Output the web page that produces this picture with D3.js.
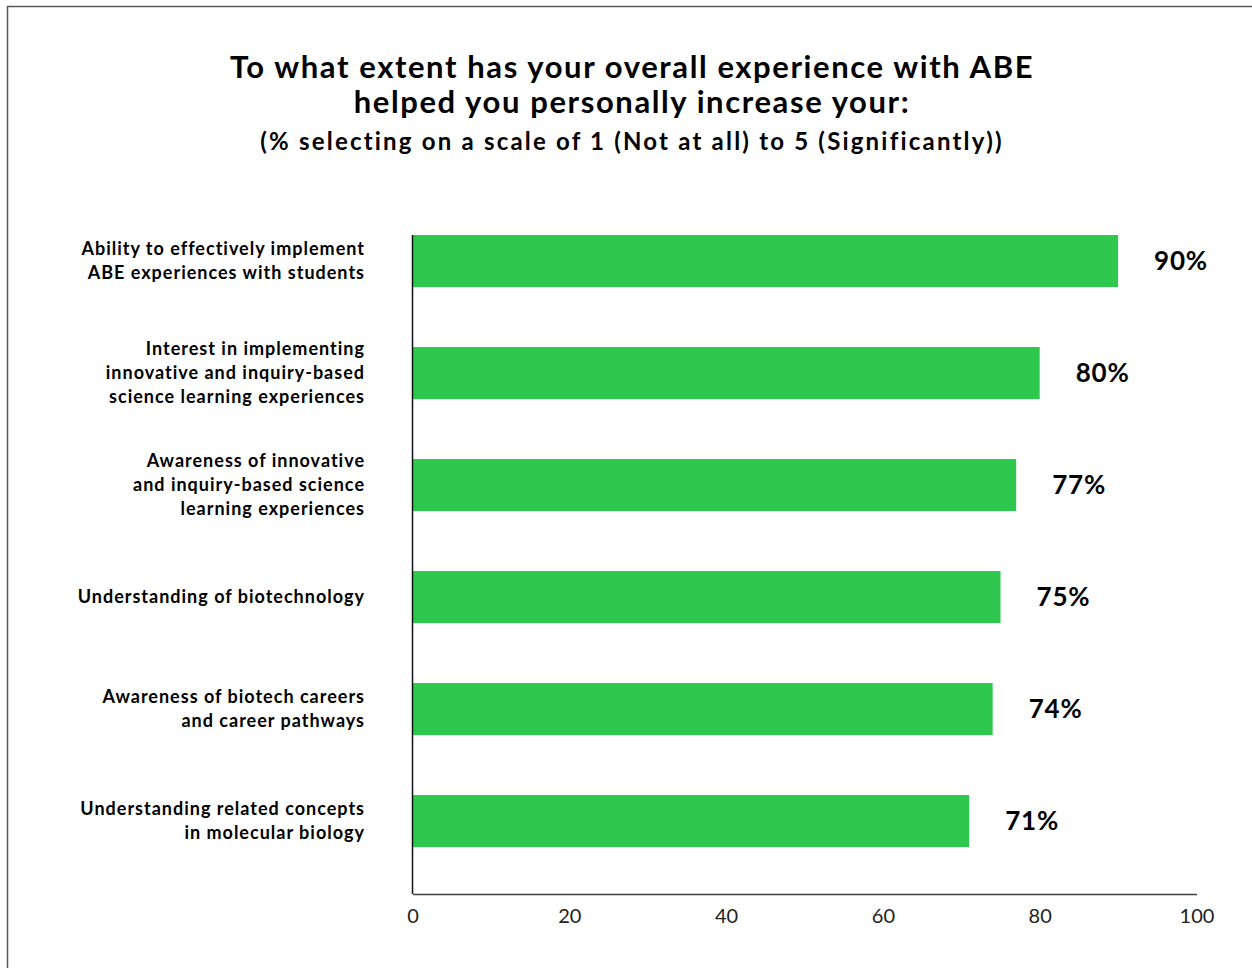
<!DOCTYPE html>
<html>
<head>
<meta charset="utf-8">
<script src="https://cdn.jsdelivr.net/npm/d3@7"></script>
<style>
  body { margin: 0; background: #fff; }
  svg { display: block; font-family: "Lato", "Noto Sans", sans-serif; }
</style>
</head>
<body>
<div class="chart"></div>
<script>
var svgWidth = 1252;
var svgHeight = 968;

var categories = [
  ["Ability to effectively implement", "ABE experiences with students"],
  ["Interest in implementing", "innovative and inquiry-based", "science learning experiences"],
  ["Awareness of innovative", "and inquiry-based science", "learning experiences"],
  ["Understanding of biotechnology"],
  ["Awareness of biotech careers", "and career pathways"],
  ["Understanding related concepts", "in molecular biology"]
];
var values = [90, 80, 77, 75, 74, 71];
var xTicks = [0, 20, 40, 60, 80, 100];

var titleLines = [
  "To what extent has your overall experience with ABE",
  "helped you personally increase your:"
];
var subtitle = "(% selecting on a scale of 1 (Not at all) to 5 (Significantly))";

var svg = d3.select(".chart")
  .append("svg")
  .attr("width", svgWidth)
  .attr("height", svgHeight);

// outer frame
svg.append("rect")
  .attr("x", 7.5)
  .attr("y", 6.5)
  .attr("width", 1260)
  .attr("height", 980)
  .attr("fill", "none")
  .attr("stroke", "#595959")
  .attr("stroke-width", 1.5);

// titles
svg.selectAll(".title")
  .data(titleLines)
  .enter().append("text")
    .attr("class", "title")
    .attr("x", 632)
    .attr("y", function(d, i) { return 78 + i * 35; })
    .attr("text-anchor", "middle")
    .style("font-size", "31px")
    .style("font-weight", "bold")
    .style("letter-spacing", "1.6px")
    .text(function(d) { return d; });

svg.append("text")
  .attr("x", 632)
  .attr("y", 150)
  .attr("text-anchor", "middle")
  .style("font-size", "24px")
  .style("font-weight", "bold")
  .style("letter-spacing", "2.2px")
  .text(subtitle);

var x = d3.scaleLinear().domain([0, 100]).range([412.5, 1196.5]);
var y = d3.scaleBand()
  .domain(d3.range(values.length))
  .range([205, 877])
  .paddingInner(0.536)
  .paddingOuter(0.268);

// bars
svg.selectAll(".bar")
  .data(values)
  .enter().append("rect")
    .attr("class", "bar")
    .attr("x", x(0))
    .attr("y", function(d, i) { return y(i); })
    .attr("width", function(d) { return x(d) - x(0); })
    .attr("height", y.bandwidth())
    .attr("fill", "#2dc84d");

// value labels
svg.selectAll(".val")
  .data(values)
  .enter().append("text")
    .attr("class", "val")
    .attr("x", function(d) { return x(d) + 36; })
    .attr("y", function(d, i) { return y(i) + y.bandwidth() / 2; })
    .attr("dy", "0.36em")
    .style("font-size", "26px")
    .style("font-weight", "bold")
    .style("letter-spacing", "0.8px")
    .text(function(d) { return d + "%"; });

// category labels
var labels = svg.selectAll(".cat")
  .data(categories)
  .enter().append("text")
    .attr("class", "cat")
    .attr("text-anchor", "end")
    .style("font-size", "18px")
    .style("font-weight", "bold")
    .style("letter-spacing", "1px");

labels.each(function(lines, i) {
  var cy = y(i) + y.bandwidth() / 2;
  var start = cy - (lines.length - 1) * 12;
  d3.select(this).selectAll("tspan")
    .data(lines)
    .enter().append("tspan")
      .attr("x", 365)
      .attr("y", function(d, j) { return start + j * 24; })
      .attr("dy", "0.35em")
      .text(function(d) { return d; });
});

// x axis
var bottomAxis = d3.axisBottom(x).tickValues(xTicks).tickSize(0).tickPadding(15);
var gx = svg.append("g")
  .attr("transform", "translate(0, 894)")
  .call(bottomAxis);
gx.select(".domain").attr("stroke", "#404040").attr("stroke-width", 1.5);
gx.selectAll("text")
  .style("font-size", "20px")
  .style("font-family", "Lato, sans-serif")
  .attr("fill", "#222");

// y axis line
svg.append("line")
  .attr("x1", 412.5)
  .attr("x2", 412.5)
  .attr("y1", y(0))
  .attr("y2", 894)
  .attr("stroke", "#111")
  .attr("stroke-width", 1.5);
</script>
</body>
</html>
